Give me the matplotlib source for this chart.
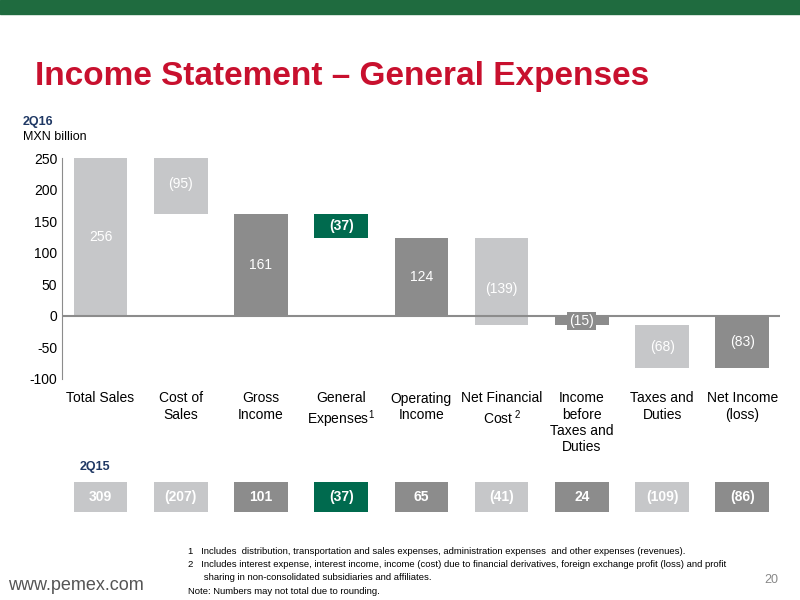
import matplotlib
matplotlib.use("Agg")
import matplotlib.pyplot as plt
from matplotlib.patches import Rectangle

categories = ["Total Sales", "Cost of\nSales", "Gross\nIncome", "General\nExpenses$^{1}$", "Operating\nIncome",
              "Net Financial\nCost$^{\\ 2}$", "Income\nbefore\nTaxes and\nDuties", "Taxes and\nDuties", "Net Income\n(loss)"]
bottoms = [0, 161, 0, 124, 0, -15, 0, -83, 0]
tops = [256, 256, 161, 161, 124, 124, -15, -15, -83]
labels_2q16 = ["256", "(95)", "161", "(37)", "124", "(139)", "(15)", "(68)", "(83)"]
labels_2q15 = ["309", "(207)", "101", "(37)", "65", "(41)", "24", "(109)", "(86)"]
kinds = ["l", "l", "d", "g", "d", "l", "d", "l", "d"]
yticks = [-100, -50, 0, 50, 100, 150, 200, 250]

LIGHT, DARK, GREEN = "#c6c7c9", "#8c8c8c", "#006a4e"
cmap = {"l": LIGHT, "d": DARK, "g": GREEN}
W, H = 800, 600

fig = plt.figure(figsize=(8, 6), dpi=100)
plt.rcParams['font.family'] = ['Liberation Sans', 'DejaVu Sans']
plt.rcParams['axes.unicode_minus'] = False
plt.rcParams['mathtext.fontset'] = 'custom'
plt.rcParams['mathtext.rm'] = 'Liberation Sans'
plt.rcParams['mathtext.it'] = 'Liberation Sans'
plt.rcParams['mathtext.default'] = 'regular'

def fx(px): return px / W
def fy(py): return 1 - py / H

fig.add_artist(Rectangle((0, fy(14)), 1, 14 / H, transform=fig.transFigure, color="#1f6b3f"))
fig.text(fx(35), fy(76), "Income Statement – General Expenses", color="#c8102e", fontsize=24,
         fontweight="bold", va="center")
fig.text(fx(23), fy(122), "2Q16", color="#1f3864", fontsize=9, fontweight="bold", va="center")
fig.text(fx(23), fy(137), "MXN billion", color="black", fontsize=9, va="center")

ax = fig.add_axes([fx(62), fy(379), fx(780) - fx(62), (379 - 158) / H])
x = list(range(len(categories)))
for i in x:
    b, t = bottoms[i], tops[i]
    ax.bar(i, t - b, bottom=b, width=0.67, color=cmap[kinds[i]])
    mid = (b + t) / 2
    if kinds[i] == "g":
        ax.text(i, mid, labels_2q16[i], color="white", ha="center", va="center", fontsize=10, fontweight="bold")
    elif i == 6:
        ax.text(i, -7.5, labels_2q16[i], color="white", ha="center", va="center", fontsize=10,
                bbox=dict(boxstyle="square,pad=0.15", fc=DARK, ec="none"))
    else:
        yy = {1: 209, 0: 125, 5: 42, 7: -49, 8: -41}.get(i, mid)
        ax.text(i, yy, labels_2q16[i], color="white", ha="center", va="center", fontsize=10)
ax.set_xlim(-0.48, 8.47)
ax.set_ylim(-100, 250)
ax.set_yticks(yticks)
ax.axhline(0, color="#8c8c8c", lw=1.5)
for s in ["top", "right", "bottom"]:
    ax.spines[s].set_visible(False)
ax.spines["left"].set_color("#8c8c8c")
ax.tick_params(axis="y", length=0, labelsize=10)
ax.set_xticks(x)
ax.set_xticklabels(categories, fontsize=10, va="top")
ax.tick_params(axis="x", length=0, pad=9)

fig.text(fx(80), fy(467), "2Q15", color="#1f3864", fontsize=9, fontweight="bold", va="center")
ax2 = fig.add_axes([fx(62), fy(512), fx(780) - fx(62), 30 / H])
for i in x:
    ax2.bar(i, 1, width=0.67, color=cmap[kinds[i]])
    ax2.text(i, 0.5, labels_2q15[i], color="white", ha="center", va="center", fontsize=10, fontweight="bold")
ax2.set_xlim(-0.48, 8.47)
ax2.set_ylim(0, 1)
ax2.axis("off")

notes = ["1   Includes  distribution, transportation and sales expenses, administration expenses  and other expenses (revenues).",
         "2   Includes interest expense, interest income, income (cost) due to financial derivatives, foreign exchange profit (loss) and profit",
         "      sharing in non-consolidated subsidiaries and affiliates.",
         "Note: Numbers may not total due to rounding."]
for k, n in enumerate(notes):
    fig.text(fx(188), fy(551 + k * 13.5), n, fontsize=6.8, va="center")
fig.text(fx(8), fy(586), "www.pemex.com", fontsize=13, color="#555555", va="center")
fig.text(fx(778), fy(580), "20", fontsize=9, color="#888888", ha="right", va="center")

fig.savefig("out.png", dpi=100)
